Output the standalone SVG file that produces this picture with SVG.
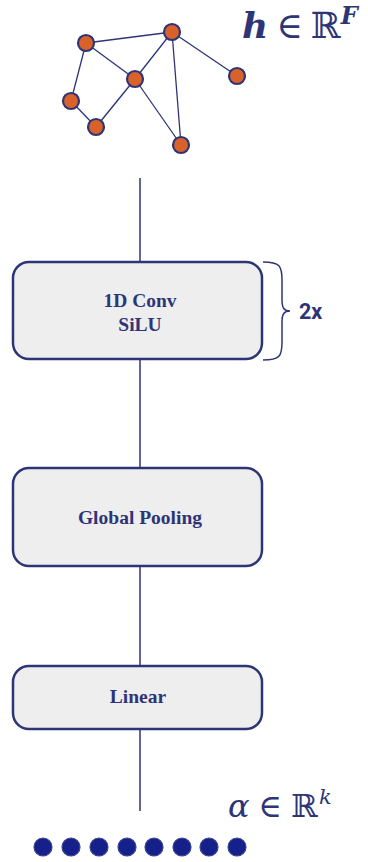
<svg xmlns="http://www.w3.org/2000/svg" width="368" height="862" viewBox="0 0 368 862">
  <style>
    .edge { stroke: #2e3577; stroke-width: 1.3; fill: none; }
    .gnode { fill: #d9622b; stroke: #2e3577; stroke-width: 2.2; }
    .wire { stroke: #2e3577; stroke-width: 1.5; fill: none; }
    .box { fill: #eeeeee; stroke: #2e3577; stroke-width: 2.5; }
    .label { font-family: "Liberation Serif", "DejaVu Serif", serif; font-weight: bold; font-size: 19.5px; fill: #2e3577; text-anchor: middle; }
    .math { font-family: "DejaVu Serif", "Liberation Serif", serif; fill: #2e3577; }
    .out { fill: #16208a; stroke: #3a4390; stroke-width: 1.2; }
  </style>

  <!-- input graph -->
  <g id="graph">
    <line class="edge" x1="86" y1="43" x2="172" y2="32"/>
    <line class="edge" x1="86" y1="43" x2="135" y2="79"/>
    <line class="edge" x1="135" y1="79" x2="172" y2="32"/>
    <line class="edge" x1="172" y1="32" x2="237" y2="76"/>
    <line class="edge" x1="172" y1="32" x2="181" y2="145"/>
    <line class="edge" x1="86" y1="43" x2="71" y2="101"/>
    <line class="edge" x1="71" y1="101" x2="96" y2="127"/>
    <line class="edge" x1="96" y1="127" x2="135" y2="79"/>
    <line class="edge" x1="135" y1="79" x2="181" y2="145"/>
    <circle class="gnode" cx="86" cy="43" r="8"/>
    <circle class="gnode" cx="172" cy="32" r="8"/>
    <circle class="gnode" cx="135" cy="79" r="8"/>
    <circle class="gnode" cx="237" cy="76" r="8"/>
    <circle class="gnode" cx="71" cy="101" r="8"/>
    <circle class="gnode" cx="96" cy="127" r="8"/>
    <circle class="gnode" cx="181" cy="145" r="8"/>
  </g>

  <g id="input-label">
    <text class="math" x="242" y="38" font-size="36"><tspan font-style="italic" font-weight="bold">h</tspan><tspan dx="8">∈</tspan><tspan dx="8">ℝ</tspan><tspan font-style="italic" font-weight="bold" font-size="24" dy="-14">F</tspan></text>
  </g>

  <!-- vertical connectors -->
  <g id="connectors">
    <line class="wire" x1="140" y1="178" x2="140" y2="262"/>
    <line class="wire" x1="140" y1="359" x2="140" y2="468"/>
    <line class="wire" x1="140" y1="566" x2="140" y2="666"/>
    <line class="wire" x1="140" y1="729" x2="140" y2="811"/>
  </g>

  <g id="conv">
    <rect class="box" x="13" y="262" width="249" height="97" rx="16"/>
    <text class="label" x="140" y="307">1D Conv</text>
    <text class="label" x="140" y="331">SiLU</text>
  </g>

  <g id="repeat">
    <path class="wire" stroke-width="1.8" d="M263,262 C280,262 282,266 282,280 L282,300 C282,308 284,311 290,311 C284,311 282,314 282,322 L282,342 C282,356 280,360 263,360"/>
    <text x="299" y="319" font-family="Roboto, 'Liberation Sans', sans-serif" font-weight="bold" font-size="21.5" fill="#2e3577">2x</text>
  </g>

  <g id="pooling">
    <rect class="box" x="13" y="468" width="249" height="98" rx="16"/>
    <text class="label" x="140" y="524">Global Pooling</text>
  </g>

  <g id="linear">
    <rect class="box" x="13" y="666" width="249" height="63" rx="16"/>
    <text class="label" x="138" y="703">Linear</text>
  </g>

  <g id="output-label">
    <text class="math" x="228" y="817" font-size="32"><tspan font-style="italic">α</tspan><tspan dx="9">∈</tspan><tspan dx="9">ℝ</tspan><tspan font-style="italic" font-size="21" dy="-13" dx="1">k</tspan></text>
  </g>

  <g id="output">
    <circle class="out" cx="43" cy="847" r="9"/>
    <circle class="out" cx="71" cy="847" r="9"/>
    <circle class="out" cx="99" cy="847" r="9"/>
    <circle class="out" cx="127" cy="847" r="9"/>
    <circle class="out" cx="154" cy="847" r="9"/>
    <circle class="out" cx="182" cy="847" r="9"/>
    <circle class="out" cx="209" cy="847" r="9"/>
    <circle class="out" cx="237" cy="847" r="9"/>
  </g>
</svg>
